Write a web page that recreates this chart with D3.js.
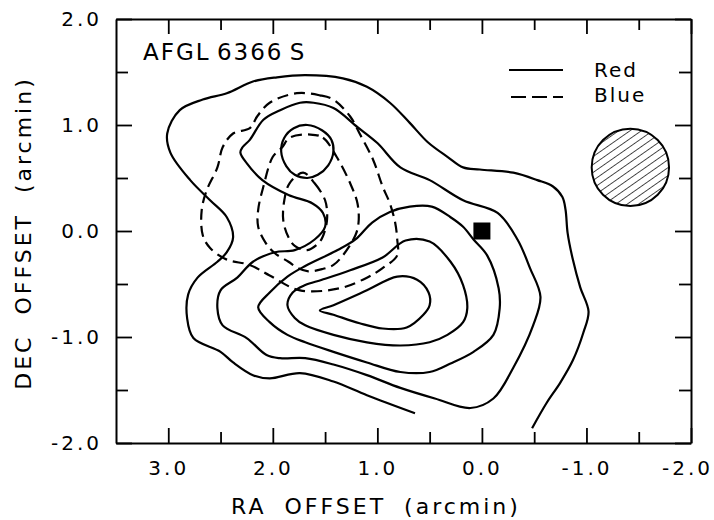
<!DOCTYPE html>
<html>
<head>
<meta charset="utf-8">
<script src="https://cdn.jsdelivr.net/npm/d3@7"></script>
<style>
  body { margin: 0; background: #fff; }
  svg { display: block; font-family: "DejaVu Sans", sans-serif; }
</style>
</head>
<body>
<div id="chart"></div>
<script>
// offsets in arcmin: [RA, DEC]
const raDomain = [3.5, -2.0];
const decDomain = [-2.0, 2.0];
const raMajor = [3, 2, 1, 0, -1, -2];
const raMinor = [2.5, 1.5, 0.5, -0.5, -1.5];
const decMajor = [-2, -1, 0, 1, 2];
const decMinor = [-1.5, -0.5, 0.5, 1.5];

const sourceName = 'AFGL 6366 S';
const legendLabels = ['Red', 'Blue'];

// red (solid) contours, outer one is open
const red1 = [[0.64,-1.72],[1.10,-1.55],[1.42,-1.42],[1.74,-1.34],[2.03,-1.39],[2.19,-1.36],[2.38,-1.24],[2.50,-1.14],[2.76,-1.01],[2.82,-0.82],[2.81,-0.60],[2.72,-0.44],[2.53,-0.29],[2.44,-0.20],[2.38,-0.06],[2.44,0.13],[2.60,0.29],[2.79,0.48],[2.98,0.74],[3.01,0.92],[2.89,1.14],[2.67,1.24],[2.44,1.30],[2.19,1.41],[1.96,1.45],[1.69,1.47],[1.33,1.44],[1.10,1.36],[0.88,1.21],[0.69,1.02],[0.52,0.84],[0.33,0.70],[0.18,0.60],[0.02,0.58],[-0.30,0.55],[-0.53,0.48],[-0.68,0.42],[-0.77,0.32],[-0.80,0.20],[-0.82,-0.02],[-0.87,-0.27],[-0.94,-0.53],[-1.02,-0.76],[-0.97,-0.96],[-0.87,-1.22],[-0.75,-1.43],[-0.62,-1.62],[-0.48,-1.86]];
const red2 = [[1.74,1.21],[1.61,1.21],[1.42,1.16],[1.19,0.98],[1.00,0.83],[0.78,0.60],[0.50,0.48],[0.18,0.29],[-0.15,0.17],[-0.34,-0.08],[-0.46,-0.35],[-0.56,-0.62],[-0.49,-0.89],[-0.30,-1.29],[-0.11,-1.58],[0.11,-1.67],[0.45,-1.58],[0.78,-1.48],[1.10,-1.36],[1.42,-1.26],[1.69,-1.20],[1.93,-1.20],[2.06,-1.17],[2.25,-1.01],[2.48,-0.89],[2.53,-0.73],[2.50,-0.56],[2.34,-0.44],[2.19,-0.29],[1.98,-0.20],[1.79,-0.18],[1.60,-0.08],[1.50,0.04],[1.52,0.17],[1.62,0.26],[1.85,0.34],[2.10,0.48],[2.25,0.64],[2.31,0.74],[2.29,0.79],[2.22,0.86],[2.09,1.05],[1.93,1.14]];
const red3 = [[2.14,-0.72],[2.03,-0.58],[1.86,-0.43],[1.69,-0.33],[1.38,-0.18],[1.21,-0.08],[1.05,0.08],[0.88,0.18],[0.69,0.23],[0.48,0.23],[0.30,0.13],[0.18,0.04],[0.08,-0.08],[-0.05,-0.23],[-0.16,-0.54],[-0.17,-0.73],[-0.11,-0.98],[0.08,-1.14],[0.30,-1.25],[0.50,-1.33],[0.78,-1.33],[1.10,-1.24],[1.42,-1.14],[1.69,-1.05],[1.86,-0.98],[2.03,-0.86]];
const red4 = [[1.86,-0.70],[1.81,-0.58],[1.69,-0.51],[1.53,-0.46],[1.26,-0.37],[0.95,-0.25],[0.73,-0.09],[0.50,-0.10],[0.30,-0.29],[0.18,-0.51],[0.14,-0.73],[0.18,-0.86],[0.33,-0.98],[0.50,-1.05],[0.78,-1.08],[1.10,-1.05],[1.42,-0.98],[1.69,-0.89],[1.79,-0.82]];
const red5 = [[1.55,-0.75],[1.42,-0.70],[1.10,-0.56],[0.81,-0.43],[0.62,-0.46],[0.51,-0.58],[0.50,-0.70],[0.56,-0.79],[0.72,-0.91],[0.95,-0.92],[1.17,-0.87],[1.42,-0.79]];
const red6 = [[1.67,1.00],[1.53,0.95],[1.44,0.86],[1.42,0.75],[1.47,0.62],[1.57,0.53],[1.67,0.50],[1.79,0.53],[1.87,0.61],[1.92,0.75],[1.89,0.88],[1.80,0.97]];

// blue (dashed) contours
const blue1 = [[1.77,1.30],[1.55,1.28],[1.42,1.24],[1.26,1.08],[1.17,0.92],[1.04,0.67],[0.95,0.42],[0.88,0.26],[0.83,0.08],[0.81,-0.08],[0.81,-0.23],[0.95,-0.35],[1.10,-0.44],[1.36,-0.54],[1.74,-0.56],[2.03,-0.42],[2.22,-0.32],[2.44,-0.27],[2.60,-0.16],[2.67,-0.04],[2.68,0.20],[2.63,0.39],[2.53,0.60],[2.48,0.79],[2.38,0.92],[2.22,0.97],[2.15,1.08],[2.03,1.21]];
const blue2 = [[1.64,0.91],[1.52,0.88],[1.39,0.70],[1.26,0.45],[1.19,0.26],[1.18,0.08],[1.21,-0.04],[1.33,-0.23],[1.42,-0.32],[1.53,-0.36],[1.66,-0.38],[1.76,-0.35],[1.85,-0.29],[1.98,-0.21],[2.07,-0.11],[2.14,0.04],[2.14,0.20],[2.09,0.42],[2.00,0.70],[1.91,0.79],[1.84,0.88]];
const blue3 = [[1.71,0.55],[1.60,0.45],[1.50,0.29],[1.48,0.13],[1.50,0.01],[1.55,-0.10],[1.67,-0.18],[1.79,-0.14],[1.85,-0.06],[1.90,0.10],[1.89,0.29],[1.84,0.45]];

// IRAS source position and beam
const source = [0.0, 0.0];
const beam = { ra: -1.42, dec: 0.60, radius: 0.37 };

const width = 714, height = 520;
const margin = { top: 19, right: 23, bottom: 77, left: 116 };

const svg = d3.select('#chart').append('svg')
  .attr('width', width)
  .attr('height', height);

const x = d3.scaleLinear().domain(raDomain).range([margin.left, width - margin.right]);
const y = d3.scaleLinear().domain(decDomain).range([height - margin.bottom, margin.top]);

const fmt = d => d.toFixed(1);

function axis(maker, scale, shift, values, size, labelled, pad) {
  const g = svg.append('g')
    .attr('transform', shift)
    .call(maker(scale).tickValues(values).tickSizeInner(-size).tickSizeOuter(0)
      .tickPadding(pad || 3).tickFormat(labelled ? fmt : ''));
  g.select('.domain').attr('stroke-width', 2);
  g.selectAll('.tick line').attr('stroke-width', 1.8);
  g.selectAll('text').attr('font-size', 20).attr('letter-spacing', 3)
    .attr('fill', '#000').style('font-family', '"DejaVu Sans", sans-serif');
  return g;
}

const atBottom = 'translate(0,' + (height - margin.bottom) + ')';
const atTop = 'translate(0,' + margin.top + ')';
const atLeft = 'translate(' + margin.left + ',0)';
const atRight = 'translate(' + (width - margin.right) + ',0)';

const xAxis = axis(d3.axisBottom, x, atBottom, raMajor, 15, true, 18);
// keep the edge label inside the page
xAxis.selectAll('.tick text').filter(d => d === raDomain[1]).attr('dx', -4);
axis(d3.axisBottom, x, atBottom, raMinor, 11, false).select('.domain').remove();
axis(d3.axisTop, x, atTop, raMajor, 15, false);
axis(d3.axisTop, x, atTop, raMinor, 11, false).select('.domain').remove();
axis(d3.axisLeft, y, atLeft, decMajor, 16, true, 14);
axis(d3.axisLeft, y, atLeft, decMinor, 12, false).select('.domain').remove();
axis(d3.axisRight, y, atRight, decMajor, 16, false);
axis(d3.axisRight, y, atRight, decMinor, 12, false).select('.domain').remove();

// contours
const closedLine = d3.line().x(d => x(d[0])).y(d => y(d[1]))
  .curve(d3.curveCatmullRomClosed.alpha(0.5));
const openLine = d3.line().x(d => x(d[0])).y(d => y(d[1]))
  .curve(d3.curveCatmullRom.alpha(0.5));

const plot = svg.append('g')
  .attr('fill', 'none')
  .attr('stroke', '#000')
  .attr('stroke-width', 2.2)
  .attr('stroke-linejoin', 'round');

plot.append('path').datum(red1).attr('d', openLine);
plot.selectAll('.red').data([red2, red3, red4, red5, red6])
  .enter().append('path')
  .attr('class', 'red')
  .attr('d', closedLine);
plot.selectAll('.blue').data([blue1, blue2, blue3])
  .enter().append('path')
  .attr('class', 'blue')
  .attr('stroke-dasharray', '11,6')
  .attr('d', closedLine);

// source marker
const sq = 17;
svg.append('rect')
  .attr('x', x(source[0]) - sq / 2)
  .attr('y', y(source[1]) - sq / 2)
  .attr('width', sq)
  .attr('height', sq)
  .attr('fill', '#000');

// hatched beam
const defs = svg.append('defs');
defs.append('pattern')
  .attr('id', 'hatch')
  .attr('patternUnits', 'userSpaceOnUse')
  .attr('width', 6.5)
  .attr('height', 10)
  .attr('patternTransform', 'rotate(55)')
  .append('line')
  .attr('x1', 0).attr('y1', 0).attr('x2', 0).attr('y2', 10)
  .attr('stroke', '#000')
  .attr('stroke-width', 1.4);

const beamR = Math.abs(x(beam.radius) - x(0));
svg.append('circle')
  .attr('cx', x(beam.ra))
  .attr('cy', y(beam.dec))
  .attr('r', beamR)
  .attr('fill', 'url(#hatch)')
  .attr('stroke', '#000')
  .attr('stroke-width', 2);

// legend
const legend = svg.append('g');
legend.append('line')
  .attr('x1', 509).attr('x2', 563).attr('y1', 70).attr('y2', 70)
  .attr('stroke', '#000').attr('stroke-width', 2.2);
legend.append('line')
  .attr('x1', 511).attr('x2', 563).attr('y1', 97).attr('y2', 97)
  .attr('stroke', '#000').attr('stroke-width', 2.2)
  .attr('stroke-dasharray', '15,6');
legend.selectAll('text').data(legendLabels)
  .enter().append('text')
  .attr('x', 594)
  .attr('y', (d, i) => 77 + i * 25)
  .attr('font-size', 20)
  .attr('letter-spacing', 2)
  .text(d => d);

// titles
svg.append('text')
  .attr('x', 143)
  .attr('y', 60)
  .attr('font-size', 23)
  .attr('letter-spacing', 2)
  .attr('word-spacing', -3)
  .text(sourceName);

svg.append('text')
  .attr('x', 376)
  .attr('y', 514)
  .attr('text-anchor', 'middle')
  .attr('font-size', 22)
  .attr('letter-spacing', 3)
  .attr('word-spacing', 8)
  .text('RA OFFSET (arcmin)');

svg.append('text')
  .attr('transform', 'translate(31,233) rotate(-90)')
  .attr('text-anchor', 'middle')
  .attr('font-size', 22)
  .attr('letter-spacing', 3)
  .attr('word-spacing', 10)
  .text('DEC OFFSET (arcmin)');
</script>
</body>
</html>
